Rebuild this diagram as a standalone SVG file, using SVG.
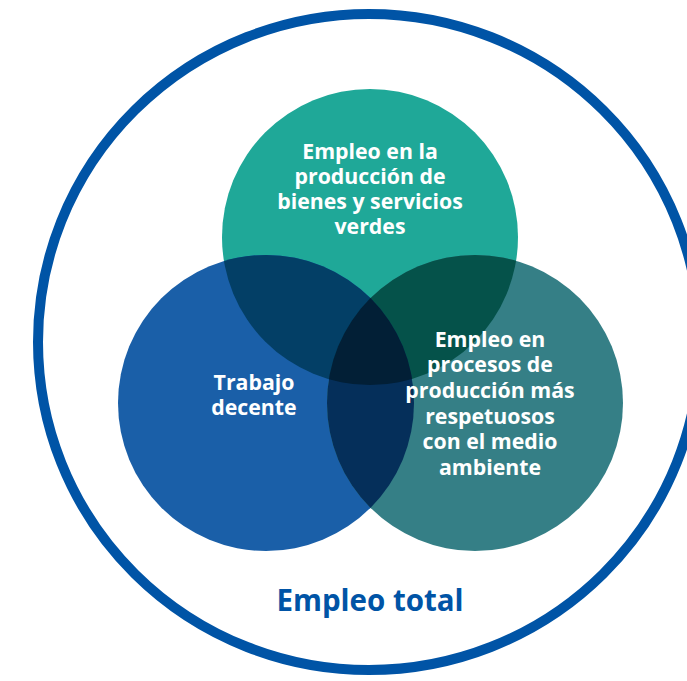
<svg xmlns="http://www.w3.org/2000/svg" width="687" height="681" viewBox="0 0 687 681">
<style>
.lbl{font-family:"Open Sans","Liberation Sans",sans-serif;font-weight:700;font-size:21.3px;fill:#ffffff;text-anchor:middle}
.total{font-family:"Open Sans","Liberation Sans",sans-serif;font-weight:700;font-size:29.5px;fill:#0054a6;text-anchor:middle}
</style>
<defs>
<clipPath id="cT"><circle cx="370" cy="237" r="148"/></clipPath>
<clipPath id="cL"><circle cx="266" cy="403" r="148"/></clipPath>
<clipPath id="cR"><circle cx="475" cy="403" r="148"/></clipPath>
</defs>
<rect width="687" height="681" fill="#ffffff"/>
<g id="total">
<ellipse cx="369" cy="342" rx="331" ry="328" fill="none" stroke="#0054a6" stroke-width="10"/>
<text class="total" x="370" y="611">Empleo total</text>
</g>
<g id="verdes">
<circle cx="370" cy="237" r="148" fill="#1fa898"/>
</g>
<g id="decente">
<circle cx="266" cy="403" r="148" fill="#1a5fa8"/>
</g>
<g id="procesos">
<circle cx="475" cy="403" r="148" fill="#357f86"/>
</g>
<g id="overlaps">
<g clip-path="url(#cT)"><circle cx="266" cy="403" r="148" fill="#033f66"/></g>
<g clip-path="url(#cT)"><circle cx="475" cy="403" r="148" fill="#05524a"/></g>
<g clip-path="url(#cL)"><circle cx="475" cy="403" r="148" fill="#052f5a"/></g>
<g clip-path="url(#cT)"><g clip-path="url(#cL)"><circle cx="475" cy="403" r="148" fill="#021f36"/></g></g>
</g>
<g id="labels">
<text class="lbl" x="370" y="159">Empleo en la</text>
<text class="lbl" x="370" y="184">producción de</text>
<text class="lbl" x="370" y="209">bienes y servicios</text>
<text class="lbl" x="370" y="234">verdes</text>
<text class="lbl" x="254" y="390">Trabajo</text>
<text class="lbl" x="254" y="415">decente</text>
<text class="lbl" x="490" y="347">Empleo en</text>
<text class="lbl" x="490" y="372">procesos de</text>
<text class="lbl" x="490" y="398">producción más</text>
<text class="lbl" x="490" y="424">respetuosos</text>
<text class="lbl" x="490" y="449">con el medio</text>
<text class="lbl" x="490" y="475">ambiente</text>
</g>
</svg>
